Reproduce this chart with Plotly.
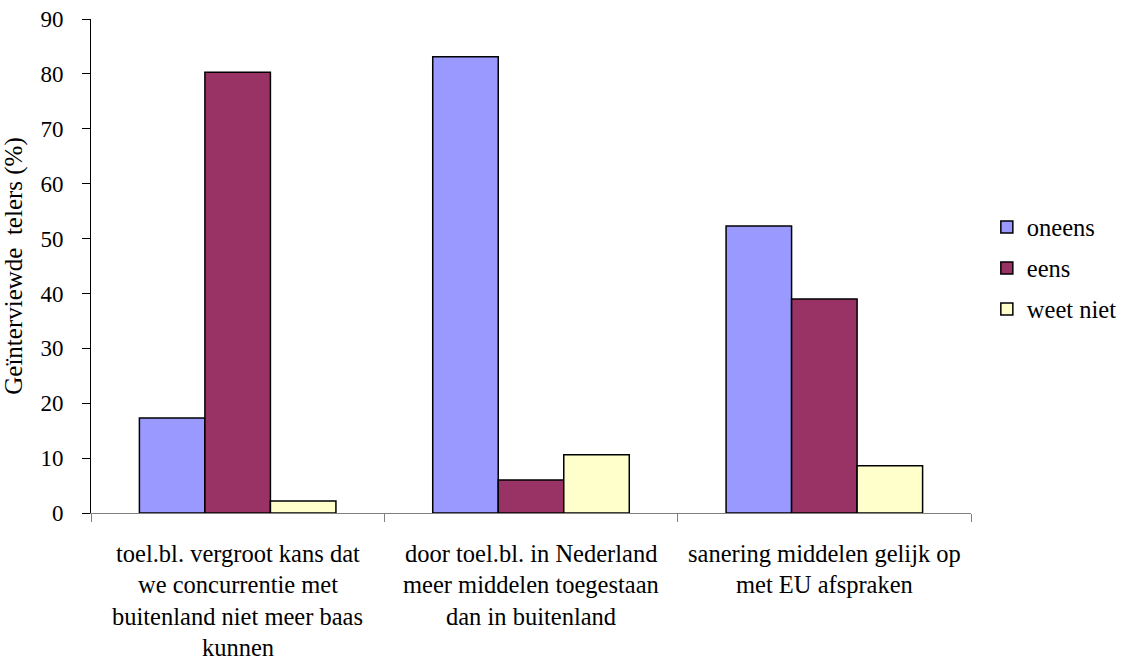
import plotly.graph_objects as go

categories = ["cat1", "cat2", "cat3"]
category_lines = [
    ["toel.bl. vergroot kans dat", "we concurrentie met",
     "buitenland niet meer baas", "kunnen"],
    ["door toel.bl. in Nederland", "meer middelen toegestaan",
     "dan in buitenland"],
    ["sanering middelen gelijk op", "met EU afspraken"],
]
oneens = [17.3, 83.1, 52.3]
eens = [80.3, 6.0, 39.0]
weet_niet = [2.2, 10.6, 8.6]

font = "Liberation Serif"

fig = go.Figure()
series = [
    ("oneens", oneens, "#9999FF", "legend"),
    ("eens", eens, "#993366", "legend2"),
    ("weet niet", weet_niet, "#FFFFCC", "legend3"),
]
for name, vals, color, leg in series:
    fig.add_trace(go.Bar(
        x=categories, y=vals, name=name, legend=leg,
        marker=dict(color=color, line=dict(color="black", width=1.5)),
    ))

# categorie-labels als losse regels (ruime regelafstand zoals origineel)
for cat, lines in zip(categories, category_lines):
    for i, line in enumerate(lines):
        fig.add_annotation(
            x=cat, xref="x", y=0, yref="paper",
            yshift=-(40 + 31.5 * i), yanchor="middle",
            text=line, showarrow=False,
            font=dict(family=font, size=24.5, color="black"),
        )

leg_common = dict(x=1.018, xanchor="left", yanchor="middle",
                  font=dict(family=font, size=24.5, color="black"),
                  bgcolor="rgba(0,0,0,0)")
fig.update_layout(
    template="none",
    width=1126, height=662,
    barmode="group",
    bargap=0.33, bargroupgap=0,
    plot_bgcolor="white", paper_bgcolor="white",
    margin=dict(l=91, r=155, t=19, b=149, autoexpand=False),
    font=dict(family=font, size=23, color="black"),
    legend=dict(y=0.579, **leg_common),
    legend2=dict(y=0.496, **leg_common),
    legend3=dict(y=0.413, **leg_common),
    showlegend=True,
)
fig.update_xaxes(
    showline=True, linecolor="#808080", linewidth=1, showgrid=False,
    ticks="outside", tickson="boundaries", ticklen=8, tickcolor="#808080",
    showticklabels=False, automargin=False,
)
fig.update_yaxes(
    range=[0, 90], dtick=10, showgrid=False, zeroline=False,
    showline=True, linecolor="black", linewidth=1,
    ticks="outside", ticklen=8, tickcolor="black", automargin=False,
    ticklabelstandoff=14,
    tickfont=dict(family=font, size=23, color="black"),
    title=dict(text="Geïnterviewde&nbsp; telers (%)", standoff=12,
               font=dict(family=font, size=25, color="black")),
)

# geen body-marge in de pagina
fig.write_html("out.html", config={"displayModeBar": False},
               post_script="document.body.style.margin='0';")
